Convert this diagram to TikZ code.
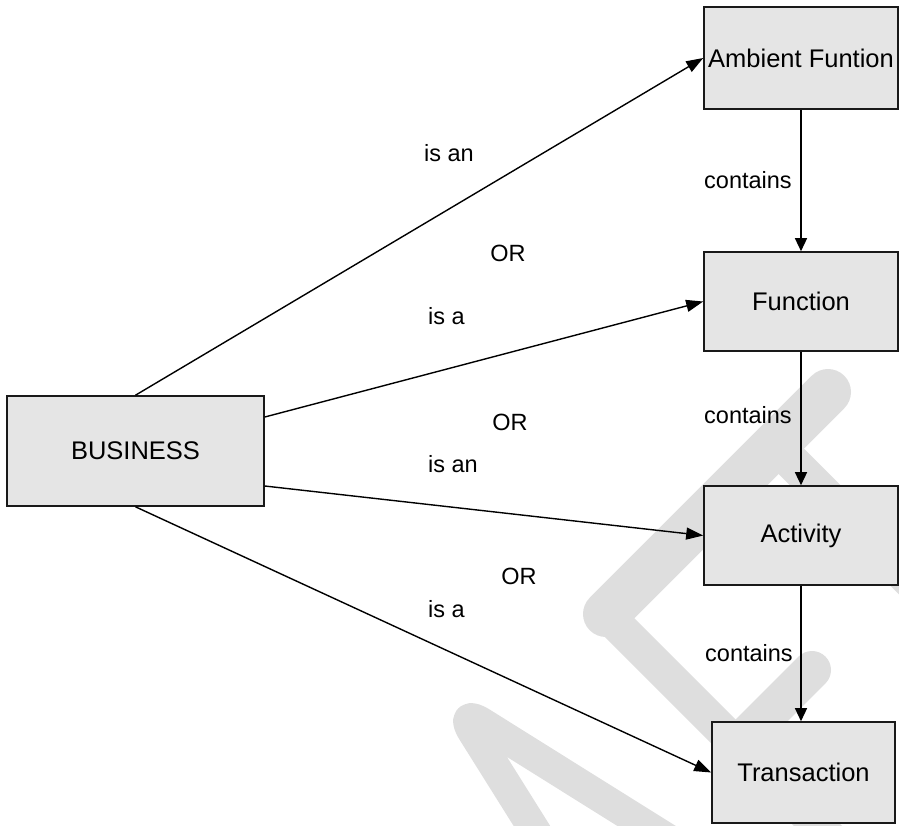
\documentclass[tikz,border=0pt]{standalone}
\usepackage{fontspec}
\setmainfont{Liberation Sans}
\usetikzlibrary{arrows.meta}
\begin{document}
\begin{tikzpicture}[x=1pt,y=-1pt,
  box/.style={draw=black!90, line width=1.6pt, fill=black!10, inner sep=0pt,
    font=\fontsize{25.5}{30}\selectfont},
  lbl/.style={inner sep=0pt, font=\fontsize{23.5}{28}\selectfont},
  link/.style={line width=1.4pt, -{Triangle[length=17pt,width=12pt]}},
  down/.style={line width=1.4pt, -{Triangle[length=13pt,width=12pt]}},
  wm/.style={draw=black!13, line cap=round, line join=round}]
\useasboundingbox (0,0) rectangle (899,825);

% faint background lettering
\begin{scope}
  \clip (0,0) rectangle (899,825);
  \draw[wm, line width=46pt] (606,614) -- (828,392);
  \draw[wm, line width=34pt] (606,614) -- (906,914);
  \draw[wm, line width=38pt] (737,745) -- (812,670);
  \draw[wm, line width=36pt] (775,445) -- (1000,670);
  \draw[wm, line width=31pt, rounded corners=28pt] (547,850) -- (458,708) -- (701,860);
\end{scope}

% boxes
\node[box, minimum width=194pt, minimum height=102pt] (amb) at (801,58) {Ambient Funtion};
\node[box, minimum width=194pt, minimum height=99pt] (func) at (801,301.5) {Function};
\node[box, minimum width=194pt, minimum height=99pt] (act) at (801,535.5) {Activity};
\node[box, minimum width=183pt, minimum height=101pt] (trans) at (803.5,772.5) {Transaction};
\node[box, minimum width=257pt, minimum height=110pt] (bus) at (135.5,451) {BUSINESS};

% connectors from BUSINESS
\draw[link] (bus.north) -- (amb.west);
\draw[link] ([yshift=34pt]bus.east) -- (func.west);
\draw[link] ([yshift=-35pt]bus.east) -- (act.west);
\draw[link] (bus.south) -- (trans.west);

% containment chain
\draw[down] (amb.south) -- (func.north);
\draw[down] (func.south) -- (act.north);
\draw[down] (act.south) -- (trans.north -| act.south);

% labels
\node[lbl, anchor=west] (isan1) at (424,153) {is an};
\node[lbl] (or1) at (508,253) {OR};
\node[lbl, anchor=west] (isa1) at (428,316) {is a};
\node[lbl] (or2) at (510,422) {OR};
\node[lbl, anchor=west] (isan2) at (428,464) {is an};
\node[lbl] (or3) at (519,576) {OR};
\node[lbl, anchor=west] (isa2) at (428,609) {is a};
\node[lbl, anchor=west] (c1) at (704,180) {contains};
\node[lbl, anchor=west] (c2) at (704,415) {contains};
\node[lbl, anchor=west] (c3) at (705,653) {contains};
\end{tikzpicture}
\end{document}
